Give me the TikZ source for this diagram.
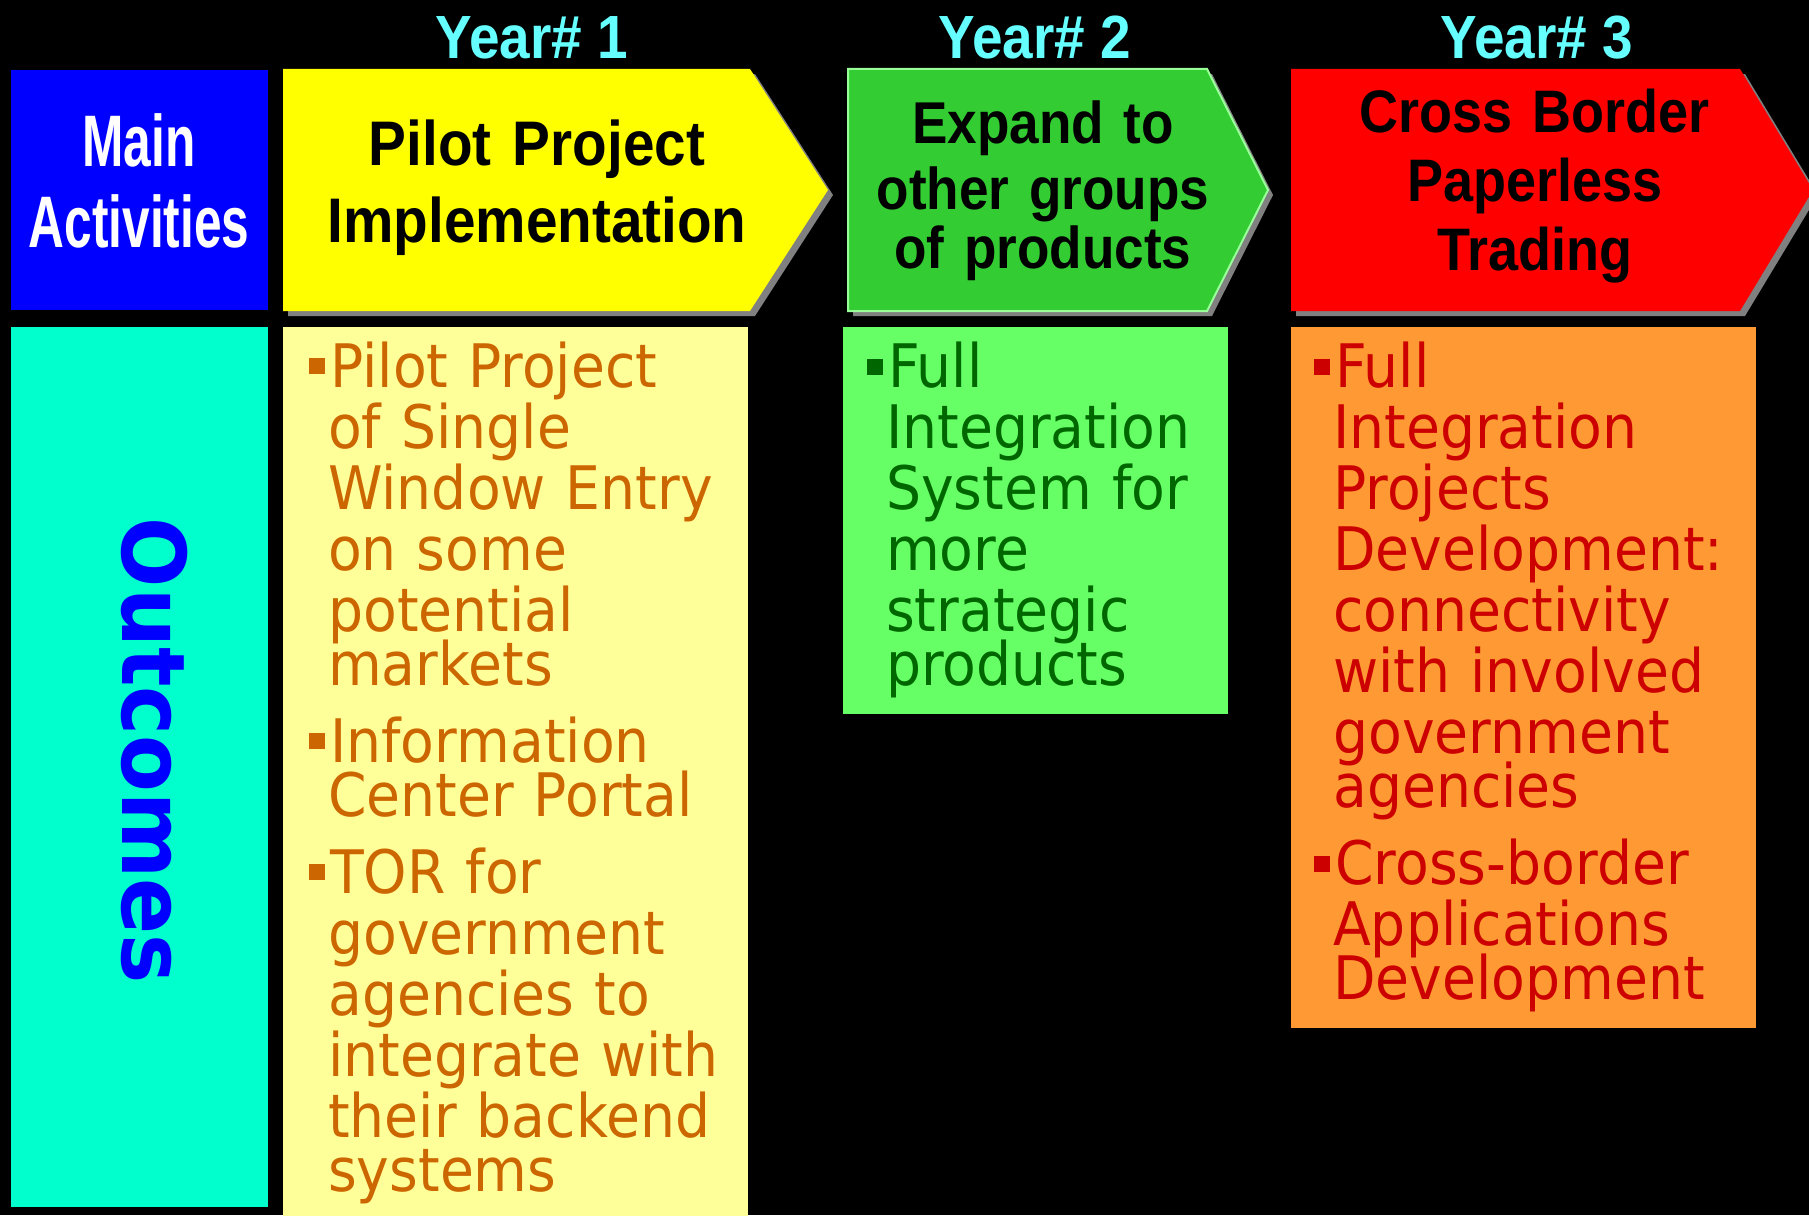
\documentclass[tikz,border=0pt]{standalone}
\usepackage{fontspec}
\usepackage{xcolor}
\setmainfont{Liberation Sans}
\newfontfamily\headfont[FakeStretch=0.9]{Liberation Sans}
\newfontfamily\narrowfont[FakeStretch=0.68]{Liberation Sans}
\newfontfamily\bodyfont[FakeStretch=0.92]{DejaVu Sans}
\newfontfamily\heavyfont[FakeStretch=0.94]{DejaVu Sans}

\definecolor{yeartxt}{HTML}{66FFFF}
\definecolor{mainblue}{HTML}{0000FF}
\definecolor{outcyan}{HTML}{00FFCC}
\definecolor{pilotfill}{HTML}{FFFF00}
\definecolor{pilotbody}{HTML}{FFFF99}
\definecolor{pilottxt}{HTML}{CC6600}
\definecolor{expandfill}{HTML}{33CC33}
\definecolor{expandline}{HTML}{99FF99}
\definecolor{expandbody}{HTML}{66FF66}
\definecolor{expandtxt}{HTML}{006600}
\definecolor{crossfill}{HTML}{FF0000}
\definecolor{crossbody}{HTML}{FF9933}
\definecolor{crosstxt}{HTML}{CC0000}
\definecolor{shadowgray}{HTML}{808080}

% square bullet hanging left of the text
\newcommand{\sqbul}[1]{\makebox[0pt][r]{\textcolor{#1}{\rule[13pt]{16pt}{16pt}}\hspace{3pt}}\hspace{2pt}}

\begin{document}
\begin{tikzpicture}[x=1pt,y=-1pt,
  yeartitle/.style={anchor=base,inner sep=0pt,text=yeartxt,font=\headfont\bfseries\fontsize{61}{61}\selectfont},
  arrowtitle/.style={anchor=base,inner sep=0pt,text width=460pt,align=center},
  outlist/.style={anchor=base west,inner sep=0pt,text width=470pt,align=left,font=\bodyfont\fontsize{60}{61}\selectfont}]
  % Ventana
  \def\W{1809}
  \def\H{1215}
  \useasboundingbox (0,0) rectangle (\W,\H);
  \fill[black] (0,0) rectangle (\W,\H);

  % Cabeceras de la izquierda
  \fill[mainblue] (11,70) rectangle (268,310);
  \fill[outcyan] (11,327) rectangle (268,1207);

  % Flechas de los tres años: izquierda/esquina/punta/color
  \foreach \xa/\xb/\xt/\col in {283/750/828/pilotfill,848/1207/1268/expandfill,1291/1740/1813/crossfill}{
    \fill[shadowgray,shift={(5,5)}] (\xa,69) -- (\xb,69) -- (\xt,190) -- (\xb,311) -- (\xa,311) -- cycle;
    \fill[\col] (\xa,69) -- (\xb,69) -- (\xt,190) -- (\xb,311) -- (\xa,311) -- cycle;
  }
  \draw[expandline,line width=2pt] (848,69) -- (1207,69) -- (1268,190) -- (1207,311) -- (848,311) -- cycle;

  % Cajas de resultados
  \fill[pilotbody] (283,327) rectangle (748,1220);
  \fill[expandbody] (843,327) rectangle (1228,714);
  \fill[crossbody] (1291,327) rectangle (1756,1028);

  % Años
  \foreach \x/\n in {532/1,1035/2,1537/3}
    \node[yeartitle] (year\n) at (\x,59) {Year\# \n};

  % Títulos
  \node[arrowtitle,text=white,font=\narrowfont\bfseries\fontsize{73}{81}\selectfont] (main) at (139,166) {Main\\Activities};
  \node[arrowtitle,font=\headfont\bfseries\fontsize{63}{77}\selectfont] (pilot) at (537,165) {Pilot Project\\Implementation};
  \node[arrowtitle,font=\headfont\bfseries\fontsize{59}{66}\selectfont] (expand) at (1043,143) {Expand to\\other groups\\[-7pt]of products};
  \node[arrowtitle,font=\headfont\bfseries\fontsize{60}{69}\selectfont] (cross) at (1535,132) {Cross Border\\Paperless\\Trading};

  % Texto vertical
  \node[rotate=-90,inner sep=0pt,text=mainblue,font=\heavyfont\bfseries\fontsize{88}{88}\selectfont] (outcomes) at (155,751) {Outcomes};

  % Listas
  \node[outlist,text=pilottxt] (pilotlist) at (328,387) {\sqbul{pilottxt}Pilot Project\\
    of Single\\
    Window Entry\\
    on some\\
    potential\\[-7pt]
    markets\\[16pt]
    \sqbul{pilottxt}Information\\[-7pt]
    Center Portal\\[16pt]
    \sqbul{pilottxt}TOR for\\
    government\\
    agencies to\\
    integrate with\\
    their backend\\[-7pt]
    systems};
  \node[outlist,text=expandtxt] (expandlist) at (886,387.5) {\sqbul{expandtxt}Full\\
    Integration\\
    System for\\
    more\\
    strategic\\[-7pt]
    products};
  \node[outlist,text=crosstxt] (crosslist) at (1333,387.5) {\sqbul{crosstxt}Full\\
    Integration\\
    Projects\\
    Development:\\
    connectivity\\
    with involved\\
    government\\[-7pt]
    agencies\\[16pt]
    \sqbul{crosstxt}Cross-border\\
    Applications\\[-7pt]
    Development};
\end{tikzpicture}
\end{document}
